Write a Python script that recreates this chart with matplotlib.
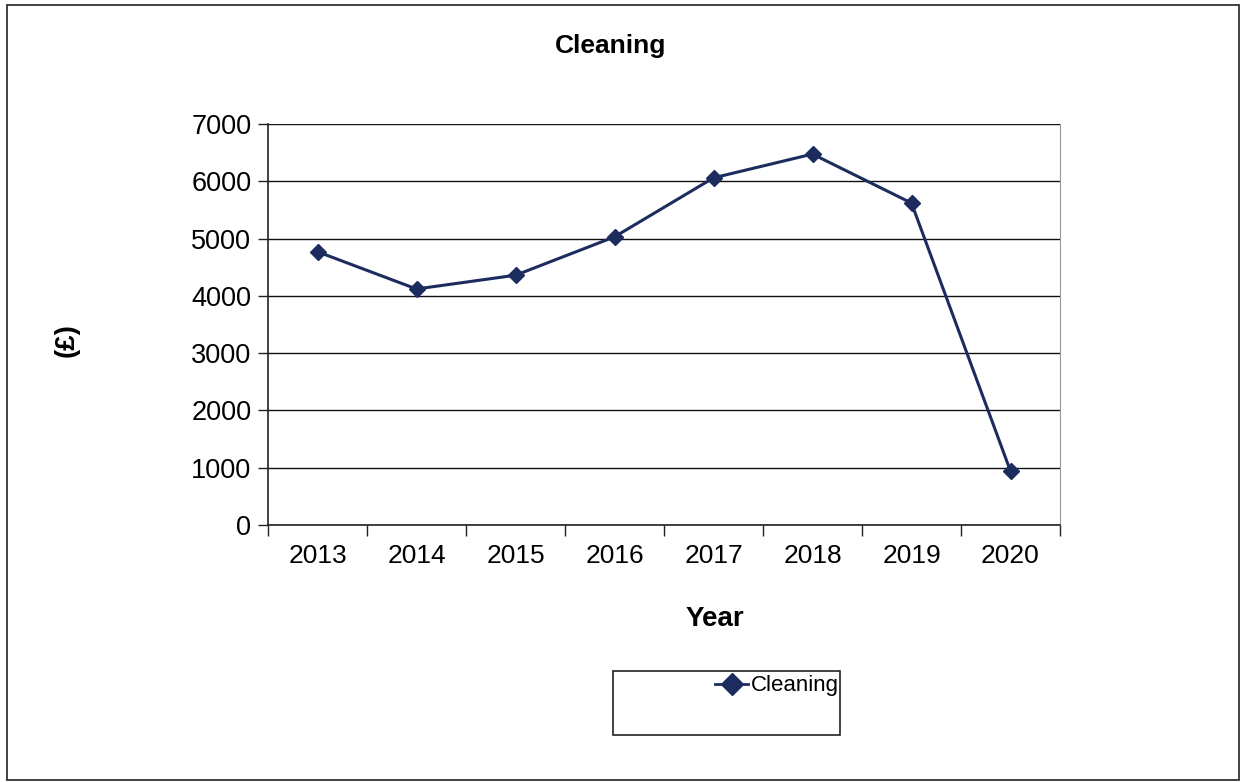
import matplotlib.pyplot as plt
from matplotlib.patches import Rectangle
from matplotlib.lines import Line2D

plt.rcParams["font.family"] = ["Liberation Sans", "DejaVu Sans"]

years = ["2013", "2014", "2015", "2016", "2017", "2018", "2019", "2020"]
cleaning = [4770, 4120, 4360, 5030, 6060, 6475, 5620, 940]
y_ticks = [0, 1000, 2000, 3000, 4000, 5000, 6000, 7000]

navy = "#1d2c5e"

W, H = 1245, 782
fig = plt.figure(figsize=(W / 100, H / 100), dpi=100)
fig.patch.set_facecolor("white")

# outer chart frame
fig.add_artist(Rectangle((7 / W, 1 - 780 / H), 1232 / W, 775 / H,
                         transform=fig.transFigure, fill=False,
                         edgecolor="#333333", linewidth=1.3))

ax = fig.add_axes([268 / W, 1 - 525 / H, 792 / W, 401 / H])
x = list(range(len(years)))
ax.plot(x, cleaning, color=navy, linewidth=2.2, marker="D", markersize=8,
        markerfacecolor=navy, markeredgecolor=navy, label="Cleaning")

ax.set_xlim(-0.5, len(years) - 0.5)
ax.set_ylim(0, 7000)
ax.set_yticks(y_ticks)
ax.set_yticklabels([str(v) for v in y_ticks], fontsize=19.5)
ax.grid(axis="y", color="#111111", linewidth=1)
ax.set_axisbelow(True)

# category labels centred, tick marks on the boundaries
ax.set_xticks(x)
ax.set_xticklabels(years, fontsize=19)
ax.tick_params(axis="x", which="major", length=0, pad=14)
ax.set_xticks([i - 0.5 for i in range(len(years) + 1)], minor=True)
ax.tick_params(axis="x", which="minor", length=8, width=1, color="#222222")
ax.tick_params(axis="y", length=7, width=1, color="#222222", pad=5)

for side in ["left", "bottom"]:
    ax.spines[side].set_color("#222222")
    ax.spines[side].set_linewidth(1.2)
ax.spines["top"].set_visible(False)
ax.spines["right"].set_color("#999999")

fig.text(611 / W, 1 - 46 / H, "Cleaning", ha="center", va="center",
         fontsize=19, fontweight="bold")
fig.text(715 / W, 1 - 619 / H, "Year", ha="center", va="center",
         fontsize=20, fontweight="bold")
fig.text(67 / W, 1 - 340 / H, "(£)", ha="center", va="center",
         fontsize=20, fontweight="bold", rotation=90)

# legend box
fig.add_artist(Rectangle((613 / W, 1 - 735 / H), 227 / W, 64 / H,
                         transform=fig.transFigure, fill=False,
                         edgecolor="#222222", linewidth=1.2))
handle = Line2D([], [], color=navy, linewidth=2, marker="D", markersize=11,
                markerfacecolor=navy, markeredgecolor=navy)
fig.legend([handle], ["Cleaning"], loc="center left",
           bbox_to_anchor=(715 / W, 1 - 686 / H), frameon=False,
           fontsize=16, handlelength=1.5, handletextpad=0.1,
           borderpad=0, borderaxespad=0)

fig.savefig("out.png", dpi=100)
